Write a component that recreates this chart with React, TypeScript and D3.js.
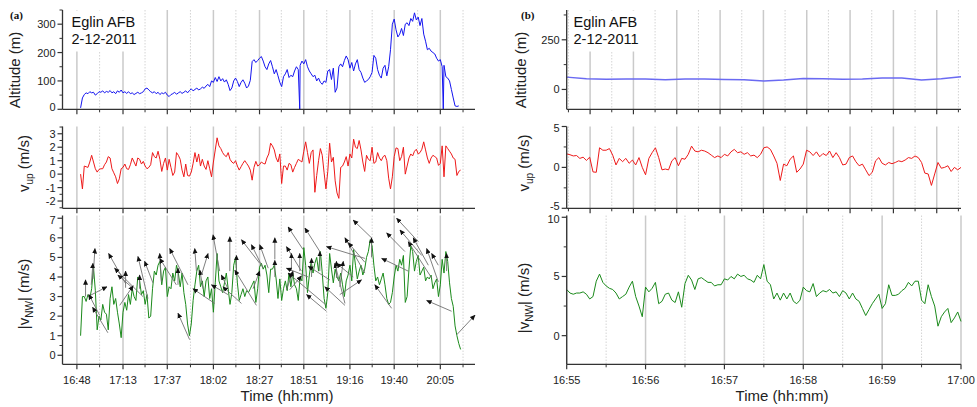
import React from "react";
import * as d3 from "d3";

// ---------- tick labels ----------
const leftTimeLabels = ["16:48", "17:13", "17:37", "18:02", "18:27", "18:51", "19:16", "19:40", "20:05"];
const rightTimeLabels = ["16:55", "16:56", "16:57", "16:58", "16:59", "17:00"];
const rightUpperTicks = [1, 2, 3, 4, 5, 6, 7, 8, 9];

const altTicksLeft = [0, 100, 200, 300];
const vupTicksLeft = [-2, -1, 0, 1, 2, 3];
const vnwTicksLeft = [0, 1, 2, 3, 4, 5, 6, 7];
const altTicksRight = [0, 250];
const vupTicksRight = [-5, 0, 5];
const vnwTicksRight = [0, 5, 10];

// ---------- (a): one sample per minute from 16:50 (time = minutes after 16:00) ----------
const leftStart = 50;
const leftStep = 1;
const altitudeLeft = [
  5, 40, 52, 58, 55, 62, 58, 60, 50, 55,
  62, 60, 65, 58, 63, 60, 66, 58, 62, 55,
  65, 60, 68, 58, 62, 56, 62, 55, 58, 52,
  56, 60, 55, 58, 62, 72, 75, 68, 62, 58,
  62, 55, 60, 52, 58, 55, 60, 50, 45, 52,
  55, 60, 53, 58, 62, 56, 60, 65, 58, 66,
  72, 65, 70, 75, 68, 72, 78, 74, 82, 88,
  80, 100, 95, 112, 98, 115, 100, 108, 96, 104,
  88, 66, 75, 100, 110, 98, 80, 95, 104, 92,
  75, 82, 102, 168, 175, 165, 172, 180, 186, 170,
  150, 140, 160, 172, 150, 125, 140, 118, 95, 80,
  115, 125, 140, 112, 120, 115, 135, 150, 140, 155,
  170, 160, 175, 150, 135, 125, 115, 120, 100, 110,
  95, 88, 100, 95, 135, 140, 105, 145, 60, 75,
  150, 160, 150, 172, 188, 175, 145, 165, 135, 160,
  175, 140, 130, 110, 95, 100, 105, 115, 130, 190,
  180, 140, 120, 110, 145, 155, 118, 150, 210, 300,
  318, 280, 255, 265, 285, 260, 300, 305, 295, 320,
  310, 340, 315, 325, 295, 320, 265, 240, 210, 215,
  205, 200, 195, 180, 170, 175, 150, 155, 115, 110,
  100, 70, 40, 12, 10, 12,
];
// moments where the altitude reading drops to zero
const altitudeDropouts = [168.8, 246.6];

const vupLeft = [
  0.0, -1.1, 0.6, 0.55, 0.5, 0.9, 1.4, 0.9, 0.4, 0.15,
  0.35, 0.4, 0.4, 0.7, 0.9, 1.3, 1.2, 0.4, 0.1, -0.2,
  -0.7, -0.35, 0.4, 0.5, 0.75, 0.4, 0.35, 0.7, 1.2, 0.9,
  0.6, 1.2, 1.1, 0.75, 0.95, 0.6, 0.4, 0.5, 0.7, 1.6,
  1.3, 1.2, 1.7, 1.1, 0.2, 0.8, 1.2, 0.3, 1.1, 0.5,
  -0.1, 0.15, 1.6, 1.4, 1.1, 0.3, -0.2, 0.75, -0.1, -0.15,
  0.15, 0.8, 1.6, 0.9, 1.5, 0.6, 1.1, 0.6, 0.35, 1.0,
  0.4, -0.2, 0.9, 1.8, 2.7, 2.1, 1.9, 1.6, 1.4, 1.3,
  1.6, 1.1, 0.9, 0.8, 1.0, 0.6, 0.3, 0.55, 0.8, 1.0,
  0.8, 0.6, 0.3, -0.45, 0.5, 0.95, 0.6, 0.7, 0.9, 0.8,
  0.75, 1.2, 1.5, 2.3, 2.1, 1.8, 1.2, 0.9, 1.5, -0.7,
  0.6, 0.6, 0.3, 0.8, 0.7, 0.15, 0.5, 0.8, 1.1, 1.0,
  0.9, 1.7, 2.4, 1.6, 0.8, 1.6, 1.8, -1.35, -0.1, 1.0,
  1.9, 1.4, 0.1, -1.1, 0.2, 2.3, 0.9, 1.25, -0.5, -1.4,
  -1.8, 0.5, 0.6, 0.9, 1.3, 0.6, 1.5, 1.2, 2.6, 2.0,
  1.9, 2.5, 1.8, 0.9, 0.2, 1.4, 1.1, 1.0, 2.0, 0.8,
  0.9, 1.6, 1.2, 1.0, 1.3, 1.4, 1.0, -0.3, -1.1, -0.2,
  1.3, 1.95, 1.9, 1.0, 1.3, 2.0, 0.0, 0.6, 1.2, 1.5,
  1.35, 1.7, 1.85, 1.5, 1.6, 1.85, 2.4, 1.8, 1.2, 0.8,
  1.2, 1.4, 1.3, 1.2, 0.65, 0.8, 2.1, -0.2, 2.1, 1.9,
  1.7, 1.5, 1.2, 1.1, -0.1, 0.2, 0.3,
];

const vnwLeft = [
  1.0, 3.0, 3.0, 2.75, 3.1, 2.9, 3.4, 4.5, 3.3, 1.3,
  2.0, 1.8, 2.6, 2.2, 2.1, 1.3, 2.9, 3.5, 2.6, 2.9,
  2.2, 1.6, 0.9, 2.2, 2.7, 2.3, 3.1, 2.6, 3.4, 3.0,
  2.8, 4.0, 3.8, 3.1, 3.3, 2.6, 3.1, 1.9, 2.0, 3.4,
  4.3, 4.1, 4.6, 4.8, 3.6, 4.3, 4.5, 3.0, 3.5, 3.4,
  4.2, 3.8, 4.6, 4.2, 3.5, 4.2, 3.2, 2.6, 1.6, 1.0,
  1.6, 2.8, 3.6, 4.3, 4.6, 3.5, 3.8, 3.0, 3.8, 4.0,
  2.9, 3.4, 2.2, 3.7, 5.2, 3.8, 3.5, 3.2, 3.7, 4.2,
  3.4, 2.6, 3.2, 4.6, 5.0, 3.7, 2.8, 3.1, 3.4, 3.0,
  3.3, 3.2, 3.4, 3.6, 3.8, 2.7, 3.4, 4.5, 4.7, 4.4,
  4.6, 4.1, 3.2, 4.4, 4.4, 4.6, 3.9, 2.9, 3.9, 2.8,
  3.4, 3.8, 3.3, 4.2, 3.5, 4.2, 3.6, 3.4, 2.8, 4.0,
  3.8, 5.5, 4.6, 3.2, 4.1, 4.8, 4.2, 4.7, 5.0, 4.3,
  5.3, 4.2, 2.9, 2.4, 3.2, 5.2, 4.4, 3.7, 4.4, 4.0,
  3.8, 4.2, 3.6, 3.0, 3.8, 4.1, 4.6, 3.8, 5.4, 4.6,
  3.9, 4.3, 4.6, 4.1, 4.4, 5.0, 5.3, 5.9, 5.6, 4.6,
  3.8, 4.0, 3.6, 3.9, 4.2, 3.6, 2.9, 2.6, 2.7, 3.2,
  4.0, 4.6, 4.3, 4.9, 4.6, 5.1, 2.7, 3.0, 4.4, 5.6,
  5.3, 4.3, 4.8, 5.1, 4.1, 4.3, 4.5, 3.8, 4.0, 3.9,
  4.1, 3.4, 3.7, 3.9, 3.0, 3.6, 4.9, 4.2, 5.3, 4.8,
  3.7, 2.9, 2.5, 1.5, 1.0, 0.6, 0.3,
];

// wind direction arrows: [tail time, tail |v|, head time, head |v|]
const windArrows = [
  [52.7, 3.0, 52.7, 3.85], [54.0, 3.0, 64.3, 3.5], [56.7, 3.9, 57.8, 5.45], [55.8, 3.6, 56.7, 4.7],
  [64.8, 1.15, 56.5, 2.45], [60.3, 2.05, 54.5, 3.1], [74.5, 3.65, 65.2, 5.2], [83.8, 3.0, 68.4, 4.45],
  [77.5, 3.5, 70.2, 4.1], [74.4, 3.45, 74.4, 4.3], [71.2, 2.55, 78.5, 3.55], [82.0, 3.4, 82.0, 4.1],
  [86.5, 2.9, 81.1, 5.05], [89.2, 3.7, 84.7, 4.8], [93.8, 3.75, 92.9, 5.2], [101.9, 3.6, 92.9, 4.95],
  [108.2, 3.6, 98.3, 5.45], [102.8, 3.6, 102.8, 4.45], [109.1, 0.8, 102.8, 2.15], [112.8, 4.3, 111.9, 5.45],
  [116.4, 3.4, 114.6, 4.35], [115.5, 4.1, 119.1, 5.2], [122.7, 2.65, 110.9, 3.4], [129.9, 3.1, 120.9, 3.6],
  [125.4, 4.3, 121.8, 6.15], [129.9, 3.4, 126.3, 4.1], [137.2, 2.65, 127.2, 3.5], [130.9, 4.3, 130.9, 6.05],
  [134.5, 4.1, 134.5, 5.1], [145.3, 2.55, 133.6, 4.35], [147.1, 4.7, 137.2, 5.9], [148.9, 4.45, 142.6, 5.65],
  [151.7, 4.45, 147.1, 5.65], [143.5, 3.4, 147.1, 4.3], [155.3, 4.9, 155.3, 6.0], [155.3, 4.0, 155.3, 4.85],
  [170.6, 5.4, 162.5, 6.55], [169.7, 4.3, 161.6, 5.55], [168.8, 4.3, 168.8, 5.2], [164.3, 4.3, 164.3, 5.2],
  [161.6, 3.35, 165.2, 4.3], [163.4, 3.35, 169.7, 4.05], [179.7, 5.3, 171.6, 6.5], [175.2, 4.0, 175.2, 4.95],
  [173.4, 4.0, 161.6, 4.45], [183.3, 2.55, 162.5, 4.2], [185.1, 3.85, 173.4, 4.55], [183.3, 2.25, 172.5, 3.1],
  [179.7, 4.3, 179.7, 5.3], [204.1, 4.95, 183.3, 5.55], [193.3, 2.55, 182.4, 3.5], [197.8, 4.0, 188.7, 4.7],
  [193.3, 2.65, 187.8, 4.7], [190.5, 3.1, 202.3, 3.85], [207.7, 6.0, 197.8, 6.9], [204.1, 4.2, 193.3, 6.0],
  [204.1, 4.75, 195.1, 5.75], [207.7, 5.0, 207.7, 6.0], [188.7, 3.95, 188.7, 4.8], [218.6, 2.4, 209.5, 3.6],
  [227.6, 4.3, 213.2, 4.95], [225.8, 5.3, 215.9, 6.25], [233.1, 5.8, 221.3, 7.0], [234.9, 5.1, 223.1, 6.4],
  [240.3, 3.95, 227.6, 5.8], [238.5, 4.6, 230.3, 6.0], [243.9, 3.75, 237.6, 5.45], [243.9, 4.6, 240.3, 5.2],
  [248.4, 4.3, 248.4, 5.2], [251.1, 2.25, 237.6, 2.8], [253.9, 1.05, 263.8, 2.05], [190.5, 3.5, 192.4, 4.8],
];

// ---------- (b) ----------
const altRightStart = 55;
const altRightStep = 0.25;
const altitudeRight = [62, 54, 51, 53, 52, 49, 53, 52, 50, 49, 43, 47, 55, 54, 51, 52, 57, 57, 47, 54, 64];

// one sample every 2.5 s from 16:55
const rightStart = 55;
const rightStep = 2.5 / 60;
const vupRight = [
  1.65, 1.55, 1.4, 1.45, 1.1, 1.25, 0.85, 1.25, -0.55, -0.6,
  2.4, 2.1, 2.1, 2.3, 1.5, 0.3, 1.1, 0.7, 1.1, 0.5,
  0.9, 0.3, 1.2, 0.0, -0.9, 1.1, 1.8, 2.4, 1.2, -0.3,
  -0.2, -0.3, 0.8, 1.2, 0.2, 1.1, 1.0, 1.6, 2.6, 2.0,
  1.9, 2.1, 2.0, 1.8, 1.5, 1.2, 1.4, 1.2, 1.6, 1.4,
  1.9, 2.2, 1.8, 1.9, 1.6, 1.8, 1.4, 1.5, 1.2, 1.6,
  2.4, 2.5, 2.2, 1.4, 0.5, -1.6, 0.4, 0.2, 1.0, 1.4,
  -0.6, -0.2, 0.4, 2.1, 1.9, 1.45, 1.9, 1.3, 1.7, 1.45,
  2.0, 1.2, 1.8, 1.2, 0.3, 0.4, 1.2, 1.4, 0.7, 0.2,
  0.4, -0.3, -1.0, -0.6, 0.8, 1.2, 0.5, 0.3, 0.6, 0.45,
  0.6, 0.8, 0.7, 0.9, 1.2, 1.1, 1.4, 1.2, 0.6, -0.7,
  -0.8, -2.2, -0.8, 0.6, -0.1, 0.0, 0.2, -0.5, 0.0, -0.3,
  0.0,
];
const vnwRight = [
  3.9, 3.6, 3.5, 3.6, 3.6, 3.7, 3.5, 3.1, 3.3, 4.6,
  5.2, 4.5, 4.2, 4.0, 3.9, 3.6, 3.1, 3.3, 3.5, 4.1,
  4.6, 3.3, 2.5, 1.6, 4.1, 3.7, 4.0, 4.5, 2.7, 2.9,
  3.5, 3.6, 3.0, 2.8, 3.7, 2.4, 4.4, 5.1, 4.7, 3.9,
  4.8, 4.9, 4.7, 4.5, 4.5, 4.2, 4.3, 4.3, 4.8, 4.7,
  5.0, 4.8, 5.2, 5.0, 5.1, 4.8, 4.7, 4.5, 5.1, 4.8,
  6.0, 4.6, 4.3, 3.1, 3.6, 3.0, 3.6, 3.1, 3.6, 2.9,
  2.7, 3.0, 4.1, 3.8, 3.7, 4.4, 3.3, 3.6, 3.8, 3.7,
  3.9, 3.6, 3.7, 3.3, 3.8, 3.6, 3.1, 3.6, 3.1, 2.9,
  2.3, 1.7, 2.2, 2.7, 3.1, 3.5, 2.3, 2.7, 4.3, 3.4,
  3.4, 3.5, 3.8, 4.0, 4.5, 4.2, 4.6, 4.6, 3.0, 2.7,
  4.3, 3.3, 2.5, 0.8, 1.6, 2.0, 2.3, 1.1, 1.5, 2.0,
  1.2,
];

// ---------- layout ----------
const W = 977;
const H = 407;
const LX: [number, number] = [62.5, 475];
const RX: [number, number] = [566.7, 961];
const ROW_ALT: [number, number] = [10, 109.3];
const ROW_VUP: [number, number] = [126.5, 208.3];
const ROW_VNW: [number, number] = [215.5, 364.3];
const FONT = "'Liberation Sans', Arial, sans-serif";
const AXIS = "#333";
const TICK_FONT = 11;

const toMin = (s: string) => {
  const [h, m] = s.split(":").map(Number);
  return (h - 16) * 60 + m;
};

// minor ticks halfway between the major ones
const halfway = (major: number[], domain: number[]) => {
  const step = (major[major.length - 1] - major[0]) / (major.length - 1);
  const out: number[] = [];
  for (let v = major[0] - step / 2; v <= domain[1] + 1e-9; v += step) {
    if (v >= domain[0] - 1e-9) out.push(v);
  }
  return out;
};

const series = (start: number, step: number, values: number[]) =>
  values.map((v, i) => [start + i * step, v] as [number, number]);

const xLeft = d3.scaleLinear().domain([40.2, 263.8]).range(LX);
const xRight = d3.scaleLinear().domain([55, 60]).range(RX);
const xRightUpper = d3.scaleLinear().domain([0.46, 9.56]).range(RX);

const yAltL = d3.scaleLinear().domain([0, 350]).range([ROW_ALT[1], ROW_ALT[0]]);
const yVupL = d3.scaleLinear().domain([-2.54, 3.54]).range([ROW_VUP[1], ROW_VUP[0]]);
const yVnwL = d3.scaleLinear().domain([-0.46, 7.14]).range([ROW_VNW[1], ROW_VNW[0]]);
const yAltR = d3.scaleLinear().domain([-100, 400]).range([ROW_ALT[1], ROW_ALT[0]]);
const yVupR = d3.scaleLinear().domain([-5, 5]).range([ROW_VUP[1], ROW_VUP[0]]);
const yVnwR = d3.scaleLinear().domain([-2.42, 10.15]).range([ROW_VNW[1], ROW_VNW[0]]);

type Scale = d3.ScaleLinear<number, number>;

function YAxis({ y, x0, ticks }: { y: Scale; x0: number; ticks: number[] }) {
  const [b, t] = y.range();
  const minor = halfway(ticks, y.domain());
  // labels sitting right at a panel edge are nudged inwards so stacked panels don't collide
  const nudge = (p: number) => (p - t < 3 ? 1.8 : b - p < 3 ? -1.8 : 0);
  return (
    <g>
      <line x1={x0} x2={x0} y1={t} y2={b} stroke={AXIS} strokeWidth={1.3} />
      {minor.map((v, i) => (
        <line key={"m" + i} x1={x0 - 3} x2={x0} y1={y(v)} y2={y(v)} stroke={AXIS} strokeWidth={1} />
      ))}
      {ticks.map((v) => (
        <g key={v}>
          <line x1={x0 - 5} x2={x0} y1={y(v)} y2={y(v)} stroke={AXIS} strokeWidth={1.2} />
          <text x={x0 - 7} y={y(v) + nudge(y(v))} dy="0.36em" textAnchor="end" fontSize={TICK_FONT} fill="#222" fontFamily={FONT}>
            {String(v)}
          </text>
        </g>
      ))}
    </g>
  );
}

function XAxis({ x, y0, ticks, labels }: { x: Scale; y0: number; ticks: number[]; labels?: string[] }) {
  const [l, r] = x.range();
  const minor = halfway(ticks, x.domain());
  return (
    <g>
      <line x1={l} x2={r} y1={y0} y2={y0} stroke={AXIS} strokeWidth={1.3} />
      {minor.map((v, i) => (
        <line key={"m" + i} x1={x(v)} x2={x(v)} y1={y0} y2={y0 + 3} stroke={AXIS} strokeWidth={1} />
      ))}
      {ticks.map((v, i) => (
        <g key={i}>
          <line x1={x(v)} x2={x(v)} y1={y0} y2={y0 + 5} stroke={AXIS} strokeWidth={1.2} />
          {labels && (
            <text x={x(v)} y={y0 + 19.5} textAnchor="middle" fontSize={TICK_FONT} fill="#222" fontFamily={FONT}>
              {labels[i]}
            </text>
          )}
        </g>
      ))}
    </g>
  );
}

function Grid({ x, ticks, row }: { x: Scale; ticks: number[]; row: [number, number] }) {
  const minor = halfway(ticks, x.domain());
  return (
    <g>
      {minor.map((v, i) => (
        <line key={"m" + i} x1={x(v)} x2={x(v)} y1={row[0]} y2={row[1]} stroke="#d4d4d4" strokeWidth={1} strokeDasharray="1.5,1.5" />
      ))}
      {ticks.map((v, i) => (
        <line key={i} x1={x(v)} x2={x(v)} y1={row[0]} y2={row[1]} stroke="#cacaca" strokeWidth={1.5} />
      ))}
    </g>
  );
}

function Trace({ x, y, pts, color, width = 1 }: { x: Scale; y: Scale; pts: [number, number][]; color: string; width?: number }) {
  const path = d3.line<[number, number]>().x((d) => x(d[0])).y((d) => y(d[1]))(pts) || "";
  return <path d={path} fill="none" stroke={color} strokeWidth={width} strokeLinejoin="round" />;
}

function YTitle({ x, y, main, sub, rest }: { x: number; y: number; main: string; sub?: string; rest?: string }) {
  return (
    <text transform={`translate(${x},${y}) rotate(-90)`} textAnchor="middle" fontSize={15} fill="#222" fontFamily={FONT}>
      <tspan>{main}</tspan>
      {sub && (
        <tspan fontSize={10} dy={4}>
          {sub}
        </tspan>
      )}
      {rest && <tspan dy={sub ? -4 : 0}>{rest}</tspan>}
    </text>
  );
}

function SiteLabel({ x }: { x: number }) {
  return (
    <g fontFamily={FONT} fontSize={14.5} fill="#111">
      <rect x={x - 4} y={ROW_ALT[0] + 0.5} width={74} height={41} fill="#fff" />
      <text x={x} y={26.5}>Eglin AFB</text>
      <text x={x} y={43.5}>2-12-2011</text>
    </g>
  );
}

export default function App() {
  const leftTicks = leftTimeLabels.map(toMin);
  const rightTicks = rightTimeLabels.map(toMin);

  const altLPts = [
    ...series(leftStart, leftStep, altitudeLeft),
    ...altitudeDropouts.map((t) => [t, 0] as [number, number]),
  ].sort((a, b) => a[0] - b[0]);

  return (
    <svg width={W} height={H} style={{ position: "absolute", left: 0, top: 0, background: "#fff" }}>
      <defs>
        <marker id="ahead" viewBox="0 0 10 10" refX="9" refY="5" markerWidth="5.5" markerHeight="5.5" markerUnits="userSpaceOnUse" orient="auto">
          <path d="M0,0.5 L10,5 L0,9.5 z" fill="#111" />
        </marker>
      </defs>
      <rect width={W} height={H} fill="#fff" />

      {/* ---------------- panel (a) ---------------- */}
      <Grid x={xLeft} ticks={leftTicks} row={ROW_ALT} />
      <Grid x={xLeft} ticks={leftTicks} row={ROW_VUP} />
      <Grid x={xLeft} ticks={leftTicks} row={ROW_VNW} />
      <SiteLabel x={71.5} />

      <Trace x={xLeft} y={yAltL} pts={altLPts} color="#1414f0" />
      <Trace x={xLeft} y={yVupL} pts={series(leftStart, leftStep, vupLeft)} color="#ee1a1a" />
      <Trace x={xLeft} y={yVnwL} pts={series(leftStart, leftStep, vnwLeft)} color="#1b8a1b" />
      <g>
        {windArrows.map((a, i) => (
          <line
            key={i}
            x1={xLeft(a[0])}
            y1={yVnwL(a[1])}
            x2={xLeft(a[2])}
            y2={yVnwL(a[3])}
            stroke="#707070"
            strokeWidth={0.9}
            markerEnd="url(#ahead)"
          />
        ))}
      </g>

      <YAxis y={yAltL} x0={LX[0]} ticks={altTicksLeft} />
      <YAxis y={yVupL} x0={LX[0]} ticks={vupTicksLeft} />
      <YAxis y={yVnwL} x0={LX[0]} ticks={vnwTicksLeft} />
      <XAxis x={xLeft} y0={ROW_ALT[1]} ticks={leftTicks} />
      <XAxis x={xLeft} y0={ROW_VUP[1]} ticks={leftTicks} />
      <XAxis x={xLeft} y0={ROW_VNW[1]} ticks={leftTicks} labels={leftTimeLabels} />

      <YTitle x={20} y={70} main="Altitude (m)" />
      <YTitle x={29} y={163.5} main="v" sub="up" rest=" (m/s)" />
      <YTitle x={29} y={294} main="|v" sub="NW" rest="| (m/s)" />
      <text x={287} y={401} textAnchor="middle" fontSize={15} fill="#222" fontFamily={FONT}>
        Time (hh:mm)
      </text>
      <text x={10} y={18.5} fontSize={11} fontWeight="bold" fontFamily="'Liberation Serif', 'Times New Roman', serif" fill="#111">
        (a)
      </text>

      {/* ---------------- panel (b) ---------------- */}
      <Grid x={xRightUpper} ticks={rightUpperTicks} row={ROW_ALT} />
      <Grid x={xRightUpper} ticks={rightUpperTicks} row={ROW_VUP} />
      <Grid x={xRight} ticks={rightTicks} row={ROW_VNW} />
      <SiteLabel x={573.5} />

      <Trace x={xRight} y={yAltR} pts={series(altRightStart, altRightStep, altitudeRight)} color="#6a6af2" width={1.5} />
      <Trace x={xRight} y={yVupR} pts={series(rightStart, rightStep, vupRight)} color="#ee1a1a" />
      <Trace x={xRight} y={yVnwR} pts={series(rightStart, rightStep, vnwRight)} color="#1b8a1b" />

      <YAxis y={yAltR} x0={RX[0]} ticks={altTicksRight} />
      <YAxis y={yVupR} x0={RX[0]} ticks={vupTicksRight} />
      <YAxis y={yVnwR} x0={RX[0]} ticks={vnwTicksRight} />
      <XAxis x={xRightUpper} y0={ROW_ALT[1]} ticks={rightUpperTicks} />
      <XAxis x={xRightUpper} y0={ROW_VUP[1]} ticks={rightUpperTicks} />
      <XAxis x={xRight} y0={ROW_VNW[1]} ticks={rightTicks} labels={rightTimeLabels} />

      <YTitle x={526} y={70} main="Altitude (m)" />
      <YTitle x={529} y={163} main="v" sub="up" rest=" (m/s)" />
      <YTitle x={529} y={298} main="|v" sub="NW" rest="| (m/s)" />
      <text x={782} y={401} textAnchor="middle" fontSize={15} fill="#222" fontFamily={FONT}>
        Time (hh:mm)
      </text>
      <text x={521} y={18.5} fontSize={11} fontWeight="bold" fontFamily="'Liberation Serif', 'Times New Roman', serif" fill="#111">
        (b)
      </text>
    </svg>
  );
}
